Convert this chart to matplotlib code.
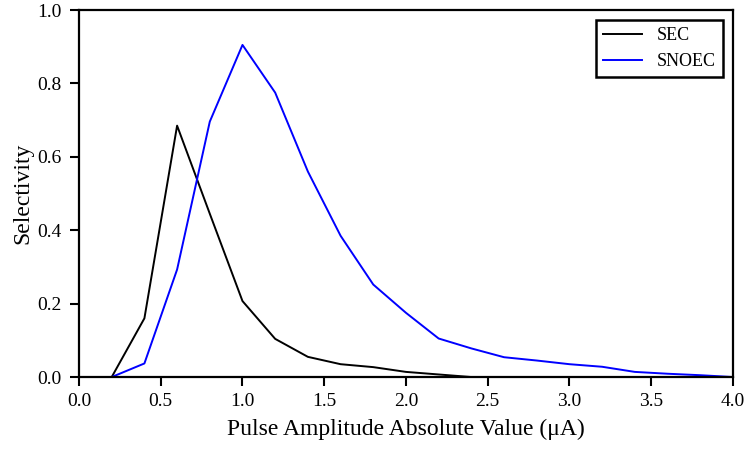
import matplotlib
matplotlib.use("Agg")
import matplotlib.pyplot as plt

# pulse amplitudes (uA)
amps = [0.2, 0.4, 0.6, 0.8, 1.0, 1.2, 1.4, 1.6, 1.8, 2.0,
        2.2, 2.4, 2.6, 2.8, 3.0, 3.2, 3.4, 3.6, 3.8, 4.0]

sec = [0.0, 0.16, 0.685, 0.445, 0.207, 0.104, 0.055, 0.035, 0.027, 0.014,
       0.007, 0.0, 0.0, 0.0, 0.0, 0.0, 0.0, 0.0, 0.0, 0.0]

snoec = [0.0, 0.037, 0.293, 0.696, 0.905, 0.775, 0.56, 0.385, 0.252, 0.175,
         0.105, 0.078, 0.054, 0.045, 0.035, 0.028, 0.014, 0.009, 0.005, 0.0]

plt.rcParams['font.family'] = ['Liberation Serif', 'DejaVu Serif']

fig = plt.figure(figsize=(7.49, 4.51), dpi=100)
ax = fig.add_axes([0.1055, 0.164, 0.873, 0.8137])

ax.plot(amps, sec, color='black', linewidth=1.4, label='SEC')
ax.plot(amps, snoec, color='blue', linewidth=1.4, label='SNOEC')

ax.set_xlim(0, 4)
ax.set_ylim(0, 1)
ax.set_xticks([0.0, 0.5, 1.0, 1.5, 2.0, 2.5, 3.0, 3.5, 4.0])
ax.set_yticks([0.0, 0.2, 0.4, 0.6, 0.8, 1.0])
ax.tick_params(direction='out', length=6.5, width=1.5, labelsize=14, pad=5)
ax.tick_params(axis='y', pad=6)
for s in ax.spines.values():
    s.set_linewidth(1.6)

ax.set_xlabel('Pulse Amplitude Absolute Value (\u03bcA)', fontsize=17, labelpad=6)
ax.set_ylabel('Selectivity', fontsize=17, labelpad=3)

leg = ax.legend(loc='upper right', fontsize=13, fancybox=False, framealpha=1,
                edgecolor='black', handlelength=2.15, borderaxespad=0.55)
leg.get_frame().set_linewidth(1.8)

fig.savefig('out.png', dpi=100)
